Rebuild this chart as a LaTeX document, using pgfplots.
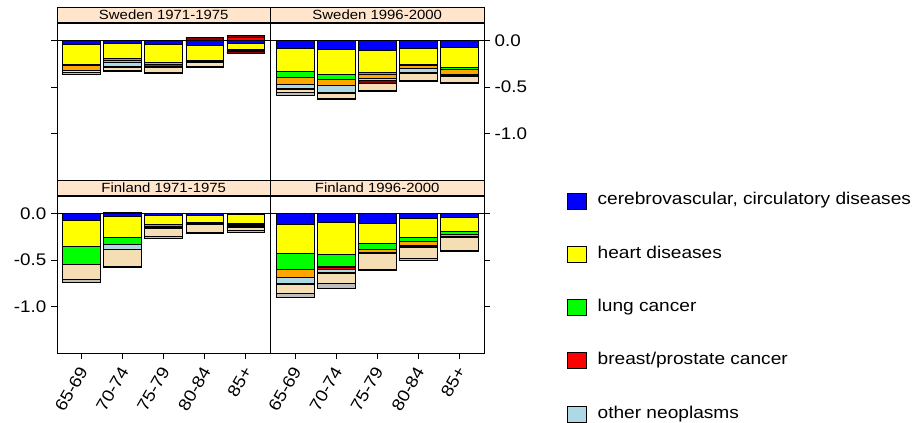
\documentclass[border=0pt]{standalone}
\usepackage{fontspec}
\setmainfont{Liberation Sans}[FakeStretch=1.12]
\usepackage{pgfplots}
\usepackage{pgfplotstable}
\pgfplotsset{compat=1.18}

\definecolor{cblue}{RGB}{0,0,255}
\definecolor{cyellow}{RGB}{255,255,0}
\definecolor{cgreen}{RGB}{0,255,0}
\definecolor{corange}{RGB}{255,165,0}
\definecolor{cred}{RGB}{255,0,0}
\definecolor{clb}{RGB}{173,216,230}
\definecolor{cdr}{RGB}{139,0,0}
\definecolor{ctan}{RGB}{245,222,179}
\definecolor{cgrey}{RGB}{190,190,190}
\definecolor{stripbg}{RGB}{255,229,204}

% Sweden 1971-1975
\pgfplotstableread{
x blue yellow green orange red lb dr tan grey
1 -0.038 -0.215 -0.010 -0.054 0 0 -0.006 -0.024 -0.013
2 -0.030 -0.166 -0.014 -0.029 0 -0.035 -0.011 -0.032 -0.014
3 -0.038 -0.193 -0.006 -0.016 -0.021 0 -0.011 -0.054 -0.014
4 -0.052 -0.158 -0.005 -0.005 0 -0.005 -0.006 -0.051 -0.008
5 -0.030 -0.065 -0.005 -0.019 0 0 -0.014 -0.005 -0.002
}\SwA
\pgfplotstableread{
x red dr
1 0 0
2 0 0
3 0 0
4 0 0.030
5 0.040 0.012
}\SwApos
% Sweden 1996-2000
\pgfplotstableread{
x blue yellow green orange red lb dr tan grey
1 -0.084 -0.247 -0.065 -0.072 0 -0.043 -0.014 -0.036 -0.028
2 -0.095 -0.268 -0.054 -0.065 0 -0.072 -0.011 -0.053 -0.014
3 -0.102 -0.244 -0.022 -0.043 0 -0.021 -0.028 -0.072 -0.014
4 -0.084 -0.176 -0.010 -0.033 0 -0.043 -0.009 -0.070 -0.009
5 -0.073 -0.215 -0.022 -0.050 0 -0.012 -0.010 -0.072 -0.008
}\SwB
% Finland 1971-1975
\pgfplotstableread{
x blue yellow green orange red lb dr tan grey
1 -0.068 -0.287 -0.193 0 0 0 0 -0.157 -0.037
2 -0.025 -0.229 -0.072 0 0 -0.057 -0.007 -0.180 -0.005
3 -0.015 -0.096 -0.029 -0.005 0 0 -0.010 -0.085 -0.030
4 -0.020 -0.070 -0.020 -0.005 0 0 -0.005 -0.085 -0.006
5 -0.003 -0.107 -0.010 -0.010 -0.005 -0.005 -0.013 -0.030 -0.014
}\FiA
\pgfplotstableread{
x red dr
1 0 0
2 0 0.012
3 0 0
4 0 0
5 0 0
}\FiApos
% Finland 1996-2000
\pgfplotstableread{
x blue yellow green orange red lb dr tan grey
1 -0.111 -0.322 -0.165 -0.086 0 -0.072 -0.009 -0.098 -0.036
2 -0.097 -0.344 -0.129 -0.010 -0.018 -0.029 -0.021 -0.108 -0.050
3 -0.103 -0.215 -0.065 -0.037 -0.006 0 -0.004 -0.168 -0.015
4 -0.046 -0.208 -0.043 -0.043 0 -0.015 -0.005 -0.124 -0.021
5 -0.039 -0.150 -0.029 -0.029 -0.003 -0.002 -0.003 -0.143 -0.007
}\FiB

\newcommand{\stackplots}[1]{%
  \addplot[fill=cblue] table[x=x,y=blue]{#1};
  \addplot[fill=cyellow] table[x=x,y=yellow]{#1};
  \addplot[fill=cgreen] table[x=x,y=green]{#1};
  \addplot[fill=corange] table[x=x,y=orange]{#1};
  \addplot[fill=cred] table[x=x,y=red]{#1};
  \addplot[fill=clb] table[x=x,y=lb]{#1};
  \addplot[fill=cdr] table[x=x,y=dr]{#1};
  \addplot[fill=ctan] table[x=x,y=tan]{#1};
  \addplot[fill=cgrey] table[x=x,y=grey]{#1};
}

\pgfplotsset{
  geom/.style={scale only axis, anchor=south west, width=160.125pt, height=117.75pt,
    xmin=0.4, xmax=5.6, ymin=-1.5, ymax=0.19, ybar stacked, bar width=0.92,
    every axis plot/.append style={draw=black, line width=0.6pt}},
  panel/.style={geom,
    tick align=outside, major tick length=4.5pt,
    ytick={-1,-0.5,0}, yticklabels={-1.0,-0.5,0.0},
    xtick={1,2,3,4,5}, xticklabels={65-69,70-74,75-79,80-84,85+},
    /pgf/number format/assume math mode=true,
    axis line style={black, line width=0.6pt},
    tick style={black, line width=0.6pt},
    tick label style={font=\fontsize{12.6}{15}\selectfont},
    xticklabel style={xshift=3pt, yshift=-4pt, rotate=60, anchor=east},
    extra y ticks={0}, extra y tick labels={},
    extra y tick style={grid=major, major grid style={black, line width=0.6pt}, major tick length=0pt},
    every axis title/.style={at={(0.5,1)}, anchor=south, fill=stripbg, draw=black, line width=0.6pt,
      minimum width=160.125pt, minimum height=11.25pt, inner sep=0pt,
      font=\fontsize{10}{12}\selectfont}},
  posov/.style={geom, hide axis}
}

\begin{document}
\begin{tikzpicture}
\useasboundingbox (0,0) rectangle (690.75pt,316.5pt);
% Top-left: Sweden 1971-1975
\begin{axis}[panel, at={(42.75pt,181.5pt)}, title={Sweden 1971-1975},
  xtick=\empty, ytick pos=left, yticklabels={,,}]
\stackplots{\SwA}
\end{axis}
\begin{axis}[posov, at={(42.75pt,181.5pt)}]
\addplot[fill=cred] table[x=x,y=red]{\SwApos};
\addplot[fill=cdr] table[x=x,y=dr]{\SwApos};
\end{axis}
% Top-right: Sweden 1996-2000
\begin{axis}[panel, at={(202.875pt,181.5pt)}, title={Sweden 1996-2000},
  xtick=\empty, ytick pos=right]
\stackplots{\SwB}
\end{axis}
% Bottom-left: Finland 1971-1975
\begin{axis}[panel, at={(42.75pt,51.75pt)}, title={Finland 1971-1975},
  xtick pos=bottom, ytick pos=left]
\stackplots{\FiA}
\end{axis}
\begin{axis}[posov, at={(42.75pt,51.75pt)}]
\addplot[fill=cred] table[x=x,y=red]{\FiApos};
\addplot[fill=cdr] table[x=x,y=dr]{\FiApos};
\end{axis}
% Bottom-right: Finland 1996-2000
\begin{axis}[panel, at={(202.875pt,51.75pt)}, title={Finland 1996-2000},
  xtick pos=bottom, ytick pos=right, yticklabels={,,}]
\stackplots{\FiB}
\end{axis}
% Legend
\begin{axis}[posov, at={(202.875pt,51.75pt)},
  legend cell align=left,
  legend image code/.code={\draw[#1, draw=black, line width=0.6pt] (0pt,-6pt) rectangle (14.25pt,6pt);},
  legend style={at={(axis description cs:1.388,1.022)}, anchor=north west, draw=none, fill=none,
    inner sep=0pt, outer sep=0pt, row sep=27.375pt, column sep=8.25pt,
    font=\fontsize{12.8}{15}\selectfont,
    nodes={inner sep=0pt, text height=9pt, text depth=3pt}}]
\addlegendimage{fill=cblue}
\addlegendentry{cerebrovascular, circulatory diseases}
\addlegendimage{fill=cyellow}
\addlegendentry{heart diseases}
\addlegendimage{fill=cgreen}
\addlegendentry{lung cancer}
\addlegendimage{fill=cred}
\addlegendentry{breast/prostate cancer}
\addlegendimage{fill=clb}
\addlegendentry{other neoplasms}
\end{axis}
\end{tikzpicture}
\end{document}
